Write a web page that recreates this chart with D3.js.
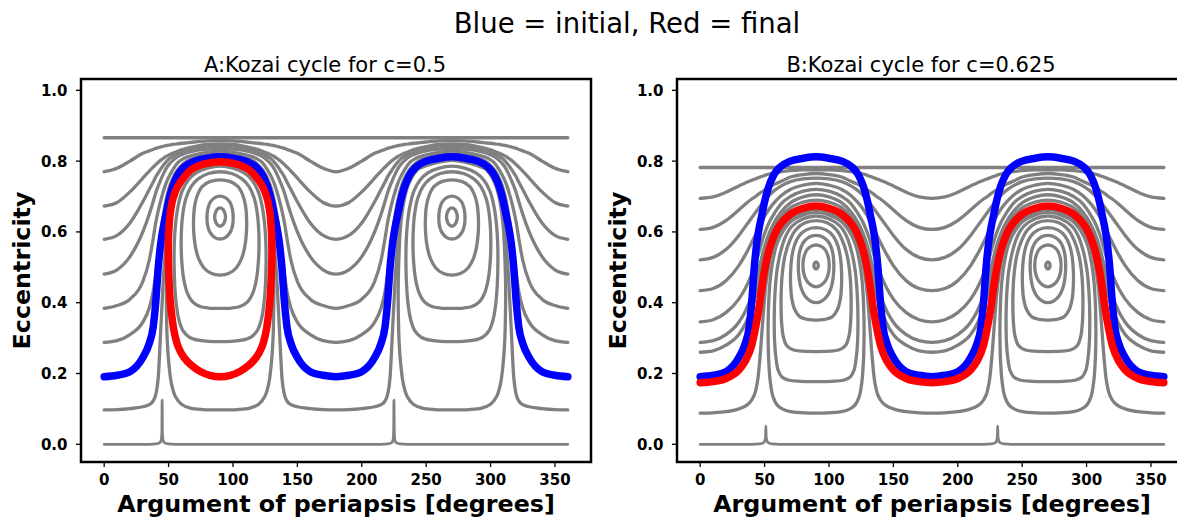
<!DOCTYPE html>
<html>
<head>
<meta charset="utf-8">
<script src="https://cdn.jsdelivr.net/npm/d3@7/dist/d3.min.js"></script>
<style>
  body { margin: 0; background: #fff; }
  text { font-family: "DejaVu Sans", sans-serif; fill: #000; }
</style>
</head>
<body>
<svg id="chart" width="1177" height="519"></svg>
<script>
// ---------- ticks ----------
const omegaTicks = [0, 50, 100, 150, 200, 250, 300, 350];
const eccTicks = [0.0, 0.2, 0.4, 0.6, 0.8, 1.0];

// ---------- panel A : c = 0.5 (one period, 0..180 deg) ----------
const gridA = [0,10,20,30,35,38,40,42,44,46,48,50,53,57,62,70,80,90,100,110,118,123,127,130,132,134,136,138,140,142,145,150,160,170,180];
const circA = [
  [.770,.780,.800,.822,.829,.833,.836,.838,.840,.842,.844,.845,.847,.849,.851,.854,.857,.858,.857,.854,.851,.849,.847,.845,.844,.842,.840,.838,.836,.833,.829,.822,.800,.780,.770],
  [.673,.683,.713,.752,.772,.783,.790,.797,.803,.808,.813,.817,.822,.828,.834,.841,.847,.849,.847,.841,.834,.828,.822,.817,.813,.808,.803,.797,.790,.783,.772,.752,.713,.683,.673],
  [.579,.590,.625,.685,.720,.740,.755,.767,.778,.788,.797,.805,.813,.822,.829,.836,.841,.843,.841,.836,.829,.822,.813,.805,.797,.788,.778,.767,.755,.740,.720,.685,.625,.590,.579],
  [.481,.493,.530,.600,.650,.685,.710,.730,.748,.764,.778,.789,.801,.813,.821,.829,.834,.836,.834,.829,.821,.813,.801,.789,.778,.764,.748,.730,.710,.685,.650,.600,.530,.493,.481],
  [.384,.392,.410,.460,.520,.580,.625,.660,.690,.715,.737,.754,.774,.795,.808,.818,.825,.828,.825,.818,.808,.795,.774,.754,.737,.715,.690,.660,.625,.580,.520,.460,.410,.392,.384],
  [.288,.293,.310,.345,.385,.430,.480,.540,.600,.650,.690,.720,.750,.775,.795,.809,.817,.820,.817,.809,.795,.775,.750,.720,.690,.650,.600,.540,.480,.430,.385,.345,.310,.293,.288],
  [.097,.098,.101,.106,.112,.122,.140,.190,.330,.470,.570,.650,.710,.752,.777,.794,.802,.805,.802,.794,.777,.752,.710,.650,.570,.470,.330,.190,.140,.122,.112,.106,.101,.098,.097]
];
// initial orbit (blue), shared by both panels
const blueE = [.191,.195,.205,.245,.285,.330,.400,.500,.570,.615,.650,.685,.725,.760,.783,.800,.808,.812,.808,.800,.783,.760,.725,.685,.650,.615,.570,.500,.400,.330,.285,.245,.205,.195,.191];
const flatA = [[0, .866], [360, .866]];
const spikeA = [[0,0],[35,0],[40,.001],[43,.004],[44.3,.012],[44.8,.035],[45,.125],[45.2,.035],[45.7,.012],[47,.004],[50,.001],[55,0],[180,0]];
const loopsA = [
  [[90,.802],[80,.797],[70,.787],[64,.778],[59.5,.758],[56,.732],[53.3,.697],[51.3,.655],[49.8,.60],[48.8,.52],[48.3,.45],[48.4,.37],[49,.29],[50.3,.225],[52.3,.17],[55.3,.135],[60,.113],[67,.102],[77,.098],[90,.097],[103,.098],[113,.102],[120,.113],[124.7,.135],[127.7,.17],[129.7,.225],[131,.29],[131.6,.37],[131.7,.45],[131.2,.52],[130.2,.60],[128.7,.655],[126.7,.697],[124,.732],[120.5,.758],[116,.778],[110,.787],[100,.797]],
  [[90,.786],[80,.780],[71,.766],[65,.745],[60.5,.715],[57.5,.675],[55.5,.625],[54.5,.57],[54.3,.51],[54.8,.45],[56,.395],[58,.352],[61,.322],[66,.303],[73,.294],[81,.291],[90,.290],[99,.291],[107,.294],[114,.303],[119,.322],[122,.352],[124,.395],[125.2,.45],[125.7,.51],[125.5,.57],[124.5,.625],[122.5,.675],[119.5,.715],[115,.745],[109,.766],[100,.780]],
  [[90,.770],[81,.765],[73,.75],[67.5,.728],[63.5,.695],[61.2,.655],[60,.605],[59.8,.555],[60.5,.505],[62,.462],[64.5,.428],[68.5,.403],[74,.39],[81,.385],[90,.384],[99,.385],[106,.39],[111.5,.403],[115.5,.428],[118,.462],[119.5,.505],[120.2,.555],[120,.605],[118.8,.655],[116.5,.695],[112.5,.728],[107,.75],[99,.765]],
  [[90,.747],[82,.742],[76,.728],[72.5,.705],[70.3,.675],[69.4,.635],[69.6,.595],[71,.555],[73.5,.523],[77.5,.498],[83,.483],[90,.478],[97,.483],[102.5,.498],[106.5,.523],[109,.555],[110.4,.595],[110.6,.635],[109.7,.675],[107.5,.705],[104,.728],[98,.742]],
  [[90,.701],[86,.697],[82.5,.685],[80.5,.665],[79.8,.640],[80.5,.615],[82.5,.597],[86,.584],[90,.580],[94,.584],[97.5,.597],[99.5,.615],[100.2,.640],[99.5,.665],[97.5,.685],[94,.697]],
  [[90,.668],[87.6,.663],[86.2,.652],[85.8,.642],[86.2,.632],[87.6,.621],[90,.616],[92.4,.621],[93.8,.632],[94.2,.642],[93.8,.652],[92.4,.663]]
];
// final orbit for c = 0.5 (red), librating around 90 deg
const redA = [[90,.798],[78,.792],[68,.777],[62,.755],[57,.728],[53.5,.695],[51.2,.65],[50,.59],[49.8,.53],[50.3,.47],[51.2,.41],[52.6,.36],[54.5,.315],[57.5,.275],[62,.245],[68,.222],[75,.205],[82,.195],[90,.191],[98,.195],[105,.205],[112,.222],[118,.245],[122.5,.275],[125.5,.315],[127.4,.36],[128.8,.41],[129.7,.47],[130.2,.53],[130,.59],[128.8,.65],[126.5,.695],[123,.728],[118,.755],[112,.777],[102,.792]];

// ---------- panel B : c = 0.625 ----------
const gridB = [0,10,20,30,35,40,43,45,47,49,51,54,58,63,70,80,90,100,110,117,122,126,129,131,133,135,137,140,145,150,160,170,180];
const circB = [
  [.695,.699,.712,.730,.738,.746,.750,.753,.756,.758,.761,.764,.767,.770,.773,.775,.775,.775,.773,.770,.767,.764,.761,.758,.756,.753,.750,.746,.738,.730,.712,.699,.695],
  [.607,.613,.632,.662,.678,.693,.700,.706,.711,.716,.720,.727,.735,.743,.755,.762,.765,.762,.755,.743,.735,.727,.720,.716,.711,.706,.700,.693,.678,.662,.632,.613,.607],
  [.521,.528,.550,.590,.615,.640,.655,.665,.675,.685,.693,.705,.718,.730,.742,.750,.752,.750,.742,.730,.718,.705,.693,.685,.675,.665,.655,.640,.615,.590,.550,.528,.521],
  [.434,.440,.462,.505,.535,.570,.592,.607,.622,.637,.650,.667,.685,.703,.720,.732,.737,.732,.720,.703,.685,.667,.650,.637,.622,.607,.592,.570,.535,.505,.462,.440,.434],
  [.346,.352,.372,.410,.440,.480,.510,.535,.560,.585,.605,.630,.655,.680,.700,.715,.720,.715,.700,.680,.655,.630,.605,.585,.560,.535,.510,.480,.440,.410,.372,.352,.346],
  [.288,.293,.310,.345,.375,.420,.455,.485,.515,.545,.570,.600,.630,.657,.682,.699,.705,.699,.682,.657,.630,.600,.570,.545,.515,.485,.455,.420,.375,.345,.310,.293,.288],
  [.260,.264,.280,.310,.340,.385,.420,.450,.485,.520,.550,.585,.615,.643,.668,.684,.690,.684,.668,.643,.615,.585,.550,.520,.485,.450,.420,.385,.340,.310,.280,.264,.260],
  [.088,.089,.092,.100,.108,.125,.150,.190,.270,.370,.450,.520,.570,.605,.635,.655,.664,.655,.635,.605,.570,.520,.450,.370,.270,.190,.150,.125,.108,.100,.092,.089,.088]
];
// final orbit for c = 0.625 (red), circulating
const redBE = [.174,.177,.186,.210,.235,.280,.330,.370,.420,.470,.510,.555,.595,.625,.650,.667,.673,.667,.650,.625,.595,.555,.510,.470,.420,.370,.330,.280,.235,.210,.186,.177,.174];
const flatB = [[0, .782], [360, .782]];
const spikeB = [[0,0],[40,0],[46,.001],[49,.004],[50.3,.012],[50.8,.022],[51,.052],[51.2,.022],[51.7,.012],[53,.004],[56,.001],[62,0],[180,0]];
const loopsB = [
  [[90,.655],[80,.648],[70,.628],[64,.600],[59.5,.565],[56.5,.52],[54.5,.47],[53.3,.41],[52.8,.35],[52.8,.29],[53.3,.23],[54.5,.175],[56.5,.135],[60,.11],[66,.096],[75,.09],[90,.088],[105,.09],[114,.096],[120,.11],[123.5,.135],[125.5,.175],[126.7,.23],[127.2,.29],[127.2,.35],[126.7,.41],[125.5,.47],[123.5,.52],[120.5,.565],[116,.600],[110,.628],[100,.648]],
  [[90,.645],[80,.637],[71,.615],[66,.585],[62.5,.545],[60,.50],[58.5,.45],[57.7,.395],[57.5,.34],[57.8,.29],[58.8,.245],[60.5,.21],[63.5,.19],[69,.181],[78,.178],[90,.177],[102,.178],[111,.181],[116.5,.19],[119.5,.21],[121.2,.245],[122.2,.29],[122.5,.34],[122.3,.395],[121.5,.45],[120,.50],[117.5,.545],[114,.585],[109,.615],[100,.637]],
  [[90,.632],[81,.625],[74,.605],[69.5,.575],[66,.535],[64,.49],[63,.44],[62.8,.39],[63.2,.345],[64.5,.305],[67,.28],[72,.267],[80,.263],[90,.262],[100,.263],[108,.267],[113,.28],[115.5,.305],[116.8,.345],[117.2,.39],[117,.44],[116,.49],[114,.535],[110.5,.575],[106,.605],[99,.625]],
  [[90,.612],[82,.605],[76.5,.587],[73,.56],[71,.525],[70.2,.485],[70.3,.445],[71.2,.41],[73.5,.38],[77.5,.36],[83,.353],[90,.351],[97,.353],[102.5,.36],[106.5,.38],[108.8,.41],[109.7,.445],[109.8,.485],[109,.525],[107,.56],[103.5,.587],[98,.605]],
  [[90,.590],[84,.584],[79.5,.567],[77,.54],[76.2,.505],[76.8,.47],[78.5,.44],[81.5,.418],[85.5,.405],[90,.40],[94.5,.405],[98.5,.418],[101.5,.44],[103.2,.47],[103.8,.505],[103,.54],[100.5,.567],[96,.584]],
  [[90,.563],[86,.559],[82.5,.547],[80.3,.525],[79.8,.505],[80.3,.485],[82.5,.463],[86,.45],[90,.445],[94,.45],[97.5,.463],[99.7,.485],[100.2,.505],[99.7,.525],[97.5,.547],[94,.559]],
  [[90,.515],[88.7,.511],[88.3,.505],[88.7,.499],[90,.495],[91.3,.499],[91.7,.505],[91.3,.511]]
];

// ---------- layout ----------
const svg = d3.select("#chart");
const frameTop = 79, frameH = 383, frameW = 510;
const GRAY = "#808080";

// build a two-period curve (0..360) from one period of values
function twoPeriods(grid, e) {
  const pts = grid.map((w, i) => [w, e[i]]);
  return pts.concat(pts.slice(1).map(d => [d[0] + 180, d[1]]));
}
function twoPeriodsPts(pts) {
  return pts.concat(pts.slice(1).map(d => [d[0] + 180, d[1]]));
}

function drawPanel(p) {
  const x = d3.scaleLinear().domain([-18, 378]).range([p.left, p.left + frameW]);
  const y = d3.scaleLinear().domain([-0.05, 1.032]).range([frameTop + frameH, frameTop]);
  const g = svg.append("g");

  const open = d3.line().x(d => x(d[0])).y(d => y(d[1])).curve(d3.curveMonotoneX);
  const closed = shift => d3.line().x(d => x(d[0] + shift)).y(d => y(d[1]))
    .curve(d3.curveCatmullRomClosed.alpha(0.5));

  const gray = g.append("g").attr("fill", "none").attr("stroke", GRAY)
    .attr("stroke-width", 3.3).attr("stroke-linecap", "round").attr("stroke-linejoin", "round");

  gray.append("path").attr("d", open(p.flat));
  gray.append("path").attr("d", open(twoPeriodsPts(p.spike))).attr("stroke-width", 2.8);
  p.circ.forEach(e => gray.append("path").attr("d", open(twoPeriods(p.grid, e))));
  [0, 180].forEach(s => p.loops.forEach(l => gray.append("path").attr("d", closed(s)(l))));

  const thick = g.append("g").attr("fill", "none").attr("stroke-width", 7.5)
    .attr("stroke-linecap", "round").attr("stroke-linejoin", "round");
  thick.append("path").attr("stroke", "#0000ff").attr("d", open(twoPeriods(gridA, blueE)));
  if (p.redLoop) {
    thick.append("path").attr("stroke", "#ff0000").attr("d", closed(0)(p.redLoop));
  } else {
    thick.append("path").attr("stroke", "#ff0000").attr("d", open(twoPeriods(p.grid, p.redE)));
  }

  // frame
  g.append("rect").attr("x", p.left).attr("y", frameTop).attr("width", frameW).attr("height", frameH)
    .attr("fill", "none").attr("stroke", "#000").attr("stroke-width", 2.5);

  // x ticks
  const xt = g.append("g");
  omegaTicks.forEach(t => {
    xt.append("line").attr("x1", x(t)).attr("x2", x(t)).attr("y1", frameTop + frameH).attr("y2", frameTop + frameH + 5)
      .attr("stroke", "#000").attr("stroke-width", 1.3);
    xt.append("text").attr("x", x(t)).attr("y", frameTop + frameH + 22.5).attr("text-anchor", "middle")
      .attr("font-size", 15).attr("font-weight", "bold").text(t);
  });
  // y ticks
  const fmt = d3.format(".1f");
  eccTicks.forEach(t => {
    g.append("line").attr("x1", p.left).attr("x2", p.left - 5).attr("y1", y(t)).attr("y2", y(t))
      .attr("stroke", "#000").attr("stroke-width", 1.3);
    g.append("text").attr("x", p.left - 13.5).attr("y", y(t) + 5.5).attr("text-anchor", "end")
      .attr("font-size", 15).attr("font-weight", "bold").text(fmt(t));
  });

  // labels
  g.append("text").attr("x", p.left + frameW / 2).attr("y", 512).attr("text-anchor", "middle")
    .attr("font-size", 23.8).attr("font-weight", "bold").text("Argument of periapsis [degrees]");
  g.append("text").attr("transform", `translate(${p.left - 51},${frameTop + frameH / 2}) rotate(-90)`)
    .attr("text-anchor", "middle").attr("font-size", 23.8).attr("font-weight", "bold").text("Eccentricity");
  g.append("text").attr("x", p.left + frameW / 2 - 11).attr("y", 72).attr("text-anchor", "middle")
    .attr("font-size", 21).text(p.title);
}

drawPanel({ left: 81, title: "A:Kozai cycle for c=0.5", grid: gridA, circ: circA, flat: flatA,
  spike: spikeA, loops: loopsA, redLoop: redA });
drawPanel({ left: 677, title: "B:Kozai cycle for c=0.625", grid: gridB, circ: circB, flat: flatB,
  spike: spikeB, loops: loopsB, redE: redBE });

svg.append("text").attr("x", 627).attr("y", 33).attr("text-anchor", "middle")
  .attr("font-size", 27.5).text("Blue = initial, Red = final");
</script>
</body>
</html>
